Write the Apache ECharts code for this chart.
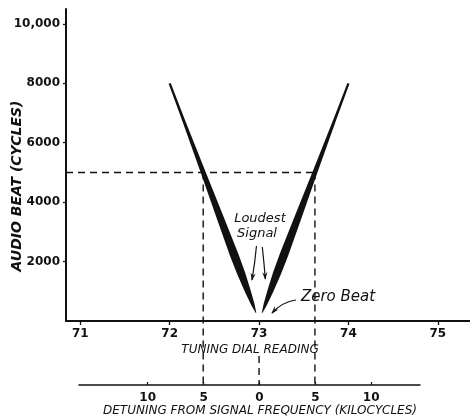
<!DOCTYPE html>
<html>
<head>
<meta charset="utf-8">
<script src="https://cdn.jsdelivr.net/npm/echarts@6/dist/echarts.min.js"></script>
<style>
html,body{margin:0;padding:0;background:#fff;}
#chart{width:470px;height:419px;}
</style>
</head>
<body>
<div id="chart"></div>
<script>
// ---- data ----
const dialTicks = [71, 72, 73, 74, 75];
const beatTicks = [2000, 4000, 6000, 8000, 10000];
const detuneTicks = [-10, -5, 0, 5, 10];
// V curve branches: [dialTop, beatTop, dialBottom, beatBottom]
const leftBranch = [72, 8000, 73, 0];
const rightBranch = [74, 8000, 73, 0];
// guide lines (dial reading, audio beat)
const guideHoriz = [[70.84, 5000], [73.625, 5000]];
const guideLeft = [[72.375, 5000], [72.375, -2160]];
const guideRight = [[73.625, 5000], [73.625, -2160]];
const guideCenter = [[73, -1180], [73, -2160]];
// annotation texts (anchor in data coords)
const noteTexts = ['Loudest', 'Signal', 'Zero Beat'];
const noteAnchors = [[73.01, 3434], [72.977, 2929], [73.883, 808]];
// annotation arrows: start, control, end (data coords)
const arrowStart = [[72.971, 2525], [73.036, 2492], [73.413, 707]];
const arrowCtrl = [[72.955, 1987], [73.055, 1987], [73.257, 640]];
const arrowEnd = [[72.921, 1380], [73.070, 1414], [73.145, 269]];

const INK = '#111';
const chart = echarts.init(document.getElementById('chart'));

const WEDGE_PROFILE = [[0, 2.2], [0.15, 2.8], [0.375, 4.8], [0.55, 6.8], [0.72, 8.5], [0.8, 8], [0.87, 6], [0.93, 3.5], [0.966, 0.6]];

function wedgeItem(params, api) {
  const a = api.coord([api.value(0), api.value(1)]);
  const b = api.coord([api.value(2), api.value(3)]);
  const dx = b[0] - a[0], dy = b[1] - a[1];
  const L = Math.hypot(dx, dy);
  const nx = -dy / L, ny = dx / L;
  const left = [], right = [];
  WEDGE_PROFILE.forEach(function (p) {
    const t = p[0], w = p[1];
    const cx = a[0] + dx * t, cy = a[1] + dy * t;
    left.push([cx + nx * w / 2, cy + ny * w / 2]);
    right.unshift([cx - nx * w / 2, cy - ny * w / 2]);
  });
  return { type: 'polygon', shape: { points: left.concat(right) }, style: { fill: INK } };
}

function notesItem(params, api) {
  const children = [];
  noteTexts.forEach(function (t, i) {
    const p = api.coord(noteAnchors[i]);
    children.push({
      type: 'text',
      style: {
        x: p[0], y: p[1], text: t, align: 'center', verticalAlign: 'middle',
        fill: INK, font: 'italic ' + (i === 2 ? 15 : 13) + 'px "DejaVu Sans"'
      }
    });
  });
  arrowStart.forEach(function (s, i) {
    const p0 = api.coord(s), c = api.coord(arrowCtrl[i]), p1 = api.coord(arrowEnd[i]);
    children.push({
      type: 'bezierCurve',
      shape: { x1: p0[0], y1: p0[1], cpx1: c[0], cpy1: c[1], x2: p1[0], y2: p1[1] },
      style: { stroke: INK, lineWidth: 1.2, fill: null }
    });
    const dx = p1[0] - c[0], dy = p1[1] - c[1], L = Math.hypot(dx, dy);
    const ux = dx / L, uy = dy / L, nx = -uy, ny = ux;
    const hl = 7, hw = 2.6;
    children.push({
      type: 'polygon',
      shape: { points: [
        [p1[0] + ux * 1, p1[1] + uy * 1],
        [p1[0] - ux * hl + nx * hw, p1[1] - uy * hl + ny * hw],
        [p1[0] - ux * hl * 0.6, p1[1] - uy * hl * 0.6],
        [p1[0] - ux * hl - nx * hw, p1[1] - uy * hl - ny * hw]
      ] },
      style: { fill: INK }
    });
  });
  return { type: 'group', children: children };
}

const dashStyle = { color: INK, width: 1.4, type: [7, 5] };
function guide(data) {
  return {
    type: 'line', data: data, xAxisIndex: 0, yAxisIndex: 0, clip: false,
    symbol: 'none', silent: true, lineStyle: dashStyle, z: 1
  };
}

const tickFont = { color: INK, fontFamily: 'DejaVu Sans', fontWeight: 'bold', fontSize: 12 };
const titleFont = { color: INK, fontFamily: 'DejaVu Sans', fontStyle: 'italic', fontSize: 12 };

chart.setOption({
  animation: false,
  backgroundColor: '#fff',
  grid: [
    { left: 66, right: 0, top: 9, bottom: 98, containLabel: false, outerBoundsMode: 'none' },
    { left: 79, right: 50, top: 375, bottom: 34, containLabel: false, outerBoundsMode: 'none' }
  ],
  xAxis: [
    {
      type: 'value', gridIndex: 0, min: 70.84, max: 75.36,
      name: 'TUNING DIAL READING', nameLocation: 'middle', nameGap: 23, nameMoveOverlap: false,
      nameTextStyle: Object.assign({ padding: [0, 36, 0, 0] }, titleFont),
      axisLine: { show: true, onZero: false, lineStyle: { color: INK, width: 1.8 } },
      axisTick: { show: true, length: 4, customValues: dialTicks, lineStyle: { color: INK, width: 1.3 } },
      axisLabel: Object.assign({ customValues: dialTicks, margin: 7 }, tickFont),
      splitLine: { show: false }
    },
    {
      type: 'value', gridIndex: 1, min: -16.15, max: 14.37, position: 'bottom',
      name: 'DETUNING FROM SIGNAL FREQUENCY (KILOCYCLES)', nameLocation: 'middle', nameGap: 20, nameMoveOverlap: false,
      nameTextStyle: Object.assign({ padding: [0, 0, 0, 21] }, titleFont),
      axisLine: { show: true, onZero: false, lineStyle: { color: INK, width: 1.5 } },
      axisTick: { show: true, inside: true, length: 3, customValues: detuneTicks, lineStyle: { color: INK, width: 1.2 } },
      axisLabel: Object.assign({ customValues: detuneTicks, margin: 7, formatter: function (v) { return String(Math.abs(v)); } }, tickFont),
      splitLine: { show: false }
    }
  ],
  yAxis: [
    {
      type: 'value', gridIndex: 0, min: 0, max: 10500,
      name: 'AUDIO BEAT (CYCLES)', nameLocation: 'middle', nameGap: 42, nameMoveOverlap: false,
      nameTextStyle: { color: INK, fontFamily: 'DejaVu Sans', fontStyle: 'italic', fontWeight: 'bold', fontSize: 14, padding: [0, 42, 0, 0] },
      axisLine: { show: true, onZero: false, lineStyle: { color: INK, width: 2 } },
      axisTick: { show: true, length: 3, customValues: beatTicks, lineStyle: { color: INK, width: 1.3 } },
      axisLabel: Object.assign({ customValues: beatTicks, margin: 6, formatter: function (v) { return v === 10000 ? '10,000' : String(v); } }, tickFont),
      splitLine: { show: false }
    },
    { type: 'value', gridIndex: 1, min: 0, max: 1, show: false }
  ],
  series: [
    guide(guideHoriz), guide(guideLeft), guide(guideRight), guide(guideCenter),
    {
      type: 'custom', xAxisIndex: 0, yAxisIndex: 0, clip: false, silent: true, z: 3,
      renderItem: wedgeItem, data: [leftBranch, rightBranch]
    },
    {
      type: 'custom', xAxisIndex: 0, yAxisIndex: 0, clip: false, silent: true, z: 4,
      renderItem: notesItem, data: [[0]]
    }
  ]
});
</script>
</body>
</html>
